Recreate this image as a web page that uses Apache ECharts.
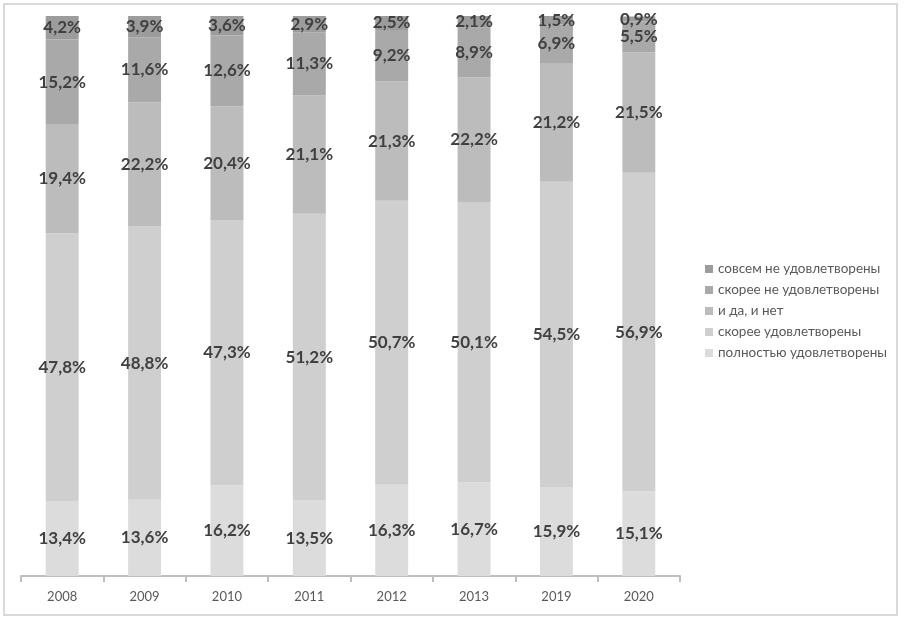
<!DOCTYPE html>
<html><head><meta charset="utf-8">
<script src="https://cdn.jsdelivr.net/npm/echarts@6/dist/echarts.min.js"></script>
<style>html,body{margin:0;padding:0;background:#fff}#c{width:905px;height:620px}</style>
</head><body><div id="c"></div>
<script>
const years = ['2008','2009','2010','2011','2012','2013','2019','2020'];
const fully = [13.4,13.6,16.2,13.5,16.3,16.7,15.9,15.1];
const rather = [47.8,48.8,47.3,51.2,50.7,50.1,54.5,56.9];
const neutral = [19.4,22.2,20.4,21.1,21.3,22.2,21.2,21.5];
const ratherNot = [15.2,11.6,12.6,11.3,9.2,8.9,6.9,5.5];
const notAtAll = [4.2,3.9,3.6,2.9,2.5,2.1,1.5,0.9];
const names = ['полностью удовлетворены','скорее удовлетворены','и да, и нет','скорее не удовлетворены','совсем не удовлетворены'];
const colors = ['#dcdcdc','#cfcfcf','#bcbcbc','#a9a9a9','#9c9c9c'];
const seriesData = [fully, rather, neutral, ratherNot, notAtAll];

const chart = echarts.init(document.getElementById('c'));
const fmt = p => p.value.toFixed(1).replace('.', ',') + '%';
chart.setOption({
  animation: false,
  backgroundColor: '#fff',
  graphic: [{type:'rect', shape:{x:4,y:4,width:893,height:611}, style:{fill:'none', stroke:'#d9d9d9', lineWidth:2}}],
  grid: {left: 21, right: 225, top: 16, bottom: 44},
  legend: {
    orient: 'vertical', left: 700, top: 257,
    data: names.slice().reverse(),
    itemWidth: 8, itemHeight: 8, itemGap: 7,
    icon: 'rect',
    textStyle: {fontFamily: 'Lato', fontSize: 13.5, color: '#595959'}
  },
  xAxis: {
    type: 'category', data: years,
    axisLine: {lineStyle: {color: '#bfbfbf', width: 2}},
    axisTick: {show: true, length: 6, lineStyle: {color: '#bfbfbf', width: 2}},
    axisLabel: {fontFamily: 'Lato', fontSize: 13, color: '#595959', margin: 14}
  },
  yAxis: {type: 'value', min: 0, max: 100, show: false},
  series: seriesData.map((d, i) => ({
    name: names[i], type: 'bar', stack: 'a', data: d, barWidth: '40%',
    itemStyle: {color: colors[i]},
    label: {show: true, position: 'inside', formatter: fmt,
      fontFamily: 'Lato', fontWeight: 'bold', fontSize: 17, color: '#404040'}
  }))
});
</script></body></html>
